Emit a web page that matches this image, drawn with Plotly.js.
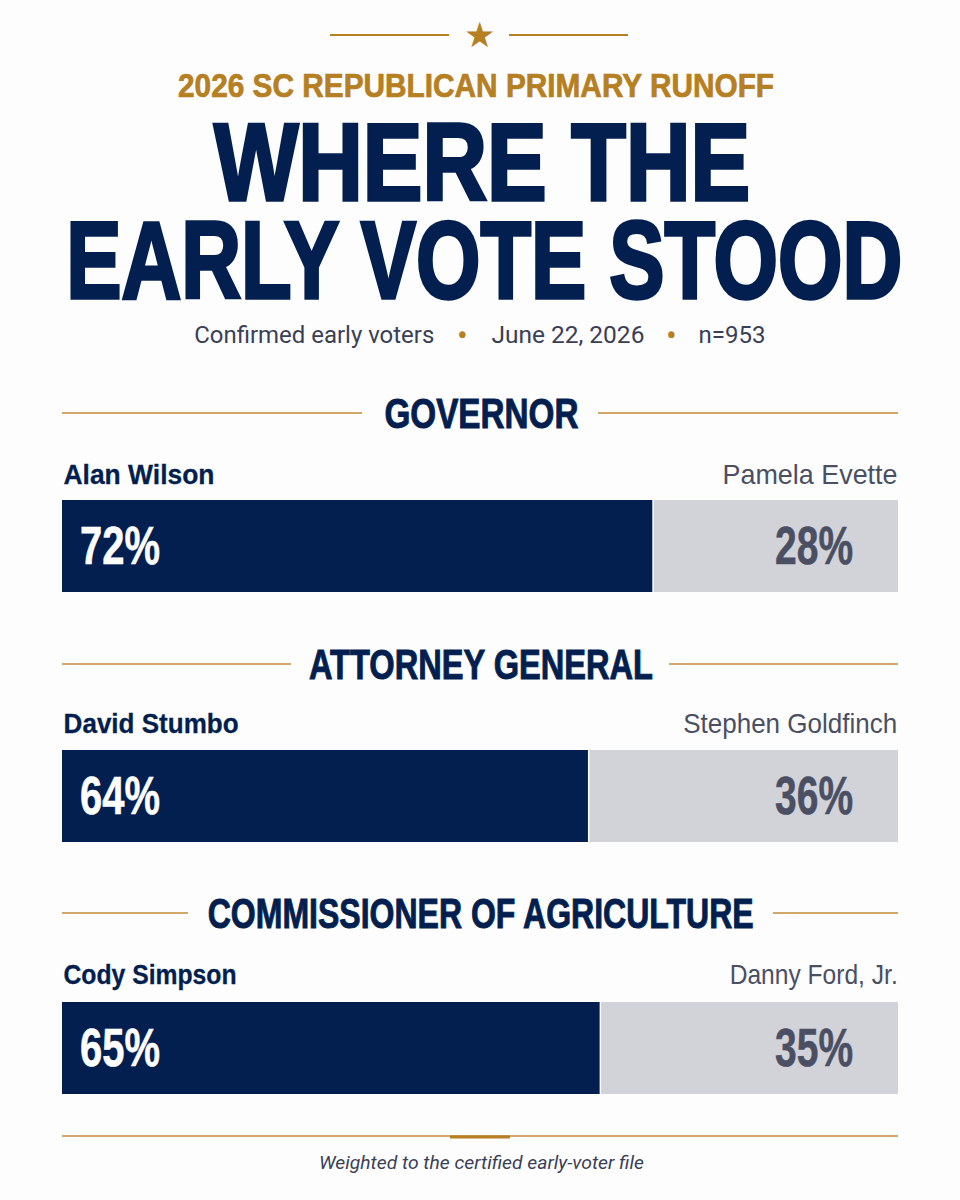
<!DOCTYPE html>
<html>
<head>
<meta charset="utf-8">
<script src="https://cdn.plot.ly/plotly-3.0.1.min.js"></script>
<style>
  html, body { margin: 0; padding: 0; background: #fdfdfd; }
</style>
</head>
<body>
<div id="chart" style="width:960px;height:1200px"></div>
<script>
// Data
var races = ['GOVERNOR', 'ATTORNEY GENERAL', 'COMMISSIONER OF AGRICULTURE']
var leaders = ['Alan Wilson', 'David Stumbo', 'Cody Simpson']
var trailers = ['Pamela Evette', 'Stephen Goldfinch', 'Danny Ford, Jr.']
var leader_pct = [72, 64, 65]
var trailer_pct = [28, 36, 35]
// segment lengths as drawn in the picture, in percent of the full bar
var leader_drawn = [70.7, 63.0, 64.4]
var trailer_drawn = [29.3, 37.0, 35.6]

var kicker = '2026 SC REPUBLICAN PRIMARY RUNOFF'
var headline = ['WHERE THE', 'EARLY VOTE STOOD']
var subtitle = ['Confirmed early voters', 'June 22, 2026', 'n=953']
var footnote = 'Weighted to the certified early-voter file'

// Colours
var navy = '#031f4f'
var grey_bar = '#d2d3d9'
var grey_text = '#4a4f63'
var gold = '#b57f22'
var gold_light = '#cfa86a'
var sub_text = '#3a3f55'

var heavy = '"Liberation Sans", sans-serif'
var plain = 'Roboto, "Noto Sans", sans-serif'

var W = 960, H = 1200
var left = 62, right = 898
function px(x) { return x / W }
function py(y) { return 1 - y / H }

// pixel layout of each race
var bar_top = [500, 750, 1002]
var bar_h = 92
var head_y = [414, 665, 914]
var head_gap = [[362, 598], [291, 669], [188, 773]]
var head_span = [[384, 578], [309, 653], [207, 753]]
var name_y = [474, 723, 974]
var leader_span = [[63, 214], [63, 238], [63, 236]]
var trailer_span = [[722, 897], [683, 897], [729, 897]]

var shapes = []
var annotations = []
var fit = {}  // text -> {width, stroke}, applied once plotly has drawn

function text(s, x0, x1, y, size, color, family, stroke, extra) {
  fit[s] = {width: x1 - x0, stroke: stroke, color: color}
  annotations.push({
    text: s, xref: 'paper', yref: 'paper', x: px((x0 + x1) / 2), y: py(y),
    xanchor: 'center', yanchor: 'middle', showarrow: false,
    font: Object.assign({family: family, size: size, color: color}, extra || {})
  })
}
function glyph(s, x, y, size, family) {
  annotations.push({text: s, xref: 'paper', yref: 'paper', x: px(x), y: py(y), showarrow: false,
    xanchor: 'center', yanchor: 'middle', font: {family: family, size: size, color: gold}})
}
function rule(x0, x1, y, color, width) {
  shapes.push({type: 'line', xref: 'paper', yref: 'paper', x0: px(x0), x1: px(x1),
    y0: py(y), y1: py(y), line: {color: color, width: width}})
}
var bold = {weight: 700}

// Header
rule(330, 449, 35, gold, 2)
rule(509, 628, 35, gold, 2)
glyph('\u2605', 479, 35, 35, 'DejaVu Sans')
text(kicker, 178, 774, 86, 33, gold, heavy, 0.7, bold)
text(headline[0], 214, 750, 161, 110, navy, heavy, 3.5, bold)
text(headline[1], 66, 902, 259, 110, navy, heavy, 3.5, bold)
text(subtitle[0], 194, 434, 335, 23, sub_text, plain, 0)
text(subtitle[1], 491, 644, 335, 23, sub_text, plain, 0)
text(subtitle[2], 698, 765, 335, 23, sub_text, plain, 0)
glyph('\u2022', 462, 335, 32, plain)
glyph('\u2022', 671, 335, 32, plain)

// Traces and axes, one subplot for each race
var data = []
var layout = {
  width: W, height: H,
  margin: {l: 0, r: 0, t: 0, b: 0},
  paper_bgcolor: '#fdfdfd',
  plot_bgcolor: '#fdfdfd',
  barmode: 'stack',
  bargap: 0,
  showlegend: false,
  shapes: shapes,
  annotations: annotations
}

races.forEach(function(race, i) {
  var n = i === 0 ? '' : String(i + 1)
  var xa = 'x' + n, ya = 'y' + n
  data.push({type: 'bar', orientation: 'h', x: [leader_drawn[i]], y: [race], xaxis: xa, yaxis: ya,
    marker: {color: navy, line: {width: 0}}, hoverinfo: 'skip'})
  data.push({type: 'bar', orientation: 'h', x: [trailer_drawn[i]], y: [race], xaxis: xa, yaxis: ya,
    marker: {color: grey_bar, line: {width: 0}}, hoverinfo: 'skip'})

  layout['xaxis' + n] = {domain: [px(left), px(right)], range: [0, 100], anchor: ya,
    visible: false, fixedrange: true}
  layout['yaxis' + n] = {domain: [py(bar_top[i] + bar_h), py(bar_top[i])], anchor: xa,
    type: 'category', visible: false, fixedrange: true}

  // white seam between the two segments
  shapes.push({type: 'line', xref: xa, yref: ya + ' domain', x0: leader_drawn[i], x1: leader_drawn[i],
    y0: 0, y1: 1, line: {color: '#fdfdfd', width: 1.5}})

  // value labels
  var mid = bar_top[i] + bar_h / 2
  text(leader_pct[i] + '%', 80, 160, mid - 1, 54, '#ffffff', heavy, 0.6, bold)
  text(trailer_pct[i] + '%', 775, 853, mid - 1, 54, grey_text, heavy, 0.6, bold)

  // race heading with rules either side
  rule(left, head_gap[i][0], head_y[i] - 1, gold_light, 2)
  rule(head_gap[i][1], right, head_y[i] - 1, gold_light, 2)
  text(race, head_span[i][0], head_span[i][1], head_y[i] - 1, 43, navy, heavy, 1, bold)

  // candidate names
  text(leaders[i], leader_span[i][0], leader_span[i][1], name_y[i], 28, navy, heavy, 0.3, bold)
  text(trailers[i], trailer_span[i][0], trailer_span[i][1], name_y[i], 28, grey_text, heavy, 0)
})

// Footer
rule(left, right, 1136, gold_light, 2)
rule(450, 510, 1137, gold, 3)
text(footnote, 319, 644, 1162, 18, sub_text, plain, 0, {style: 'italic'})

// no condensed faces installed, so squeeze the drawn text to the widths above
function squeeze() {
  document.querySelectorAll('#chart .annotation-text').forEach(function(el) {
    var f = fit[el.textContent]
    if (!f) return
    el.setAttribute('textLength', f.width)
    el.setAttribute('lengthAdjust', 'spacingAndGlyphs')
    if (f.stroke) {
      el.style.stroke = f.color
      el.style.strokeWidth = f.stroke + 'px'
      el.style.paintOrder = 'stroke'
    }
  })
}

Plotly.newPlot('chart', data, layout, {displayModeBar: false, staticPlot: true}).then(squeeze)
</script>
</body>
</html>
